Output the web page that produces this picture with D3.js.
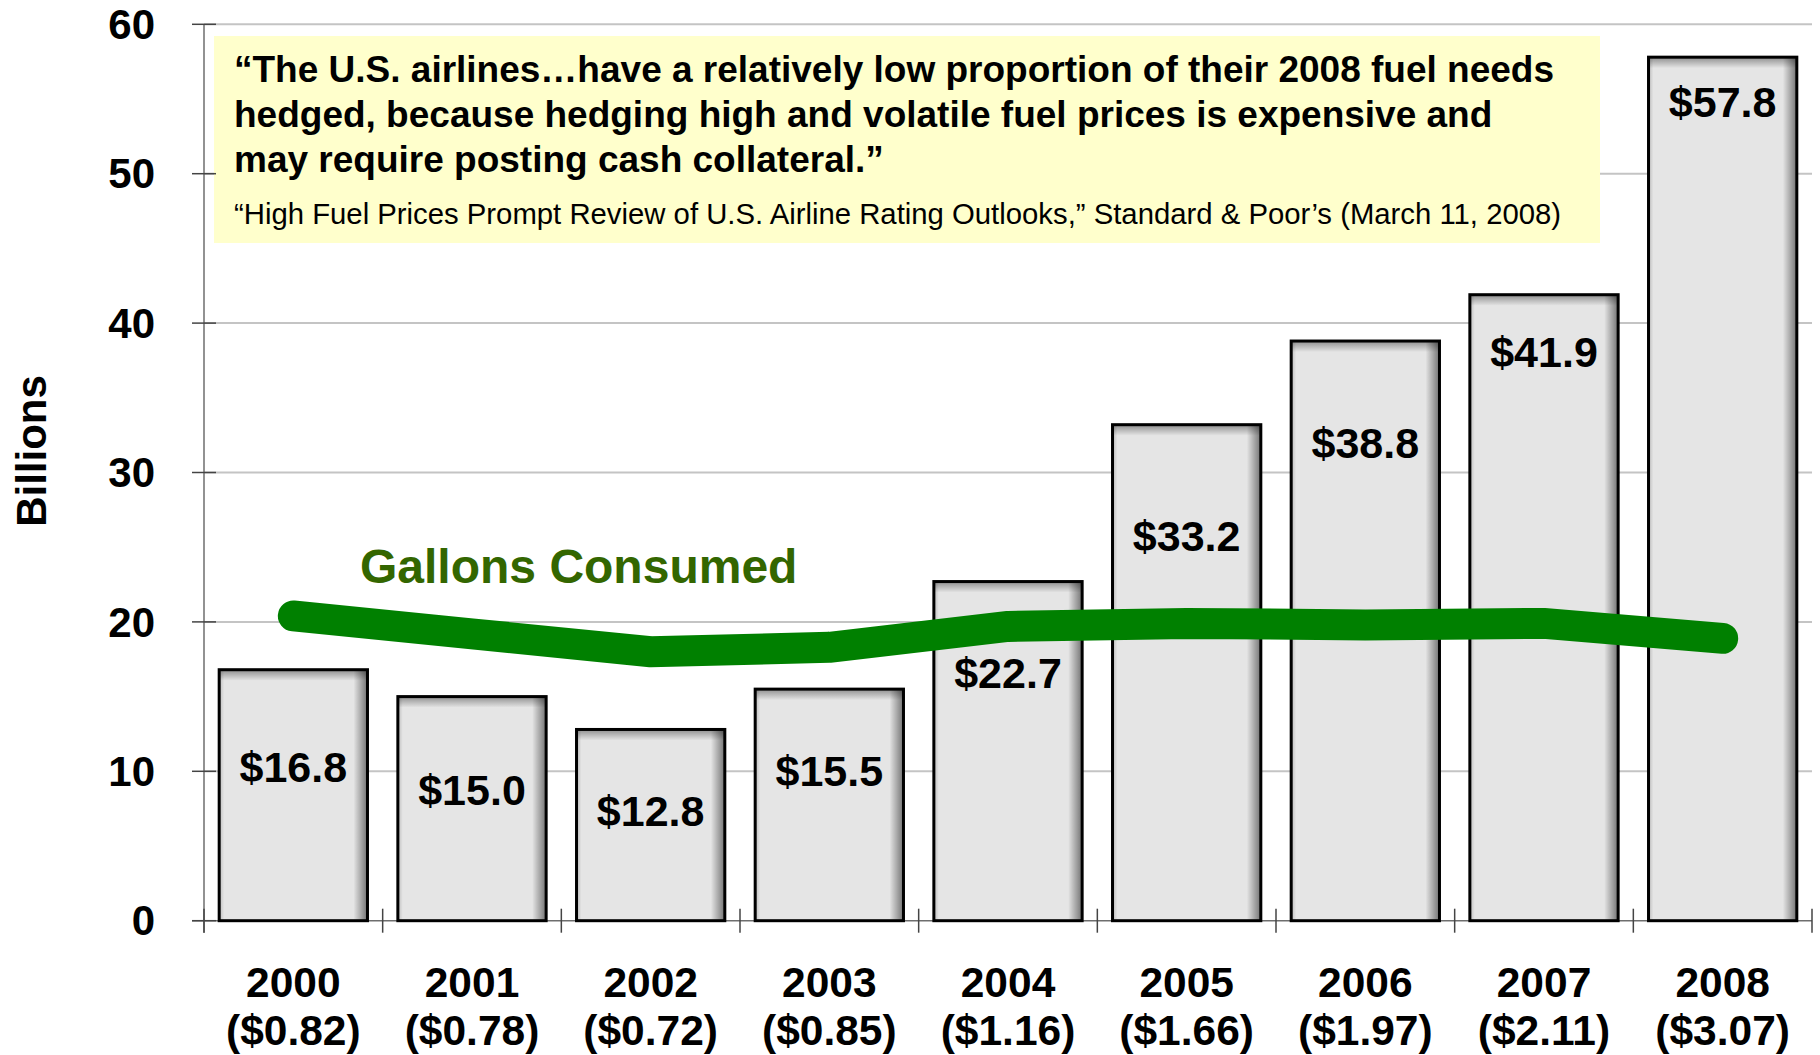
<!DOCTYPE html>
<html>
<head>
<meta charset="utf-8">
<script src="https://cdn.jsdelivr.net/npm/d3@7"></script>
<style>
  html, body { margin: 0; padding: 0; background: #ffffff; }
  svg { display: block; font-family: "Liberation Sans", Arial, sans-serif; }
</style>
</head>
<body>
<svg id="chart" width="1820" height="1055"></svg>
<script>
// ---- data ----
const years = ["2000", "2001", "2002", "2003", "2004", "2005", "2006", "2007", "2008"];
const pricePerGallon = ["($0.82)", "($0.78)", "($0.72)", "($0.85)", "($1.16)", "($1.66)", "($1.97)", "($2.11)", "($3.07)"];
const fuelCost = [16.8, 15.0, 12.8, 15.5, 22.7, 33.2, 38.8, 41.9, 57.8];
const costLabels = ["$16.8", "$15.0", "$12.8", "$15.5", "$22.7", "$33.2", "$38.8", "$41.9", "$57.8"];
const labelAt = [10.27, 8.78, 7.33, 10.04, 16.57, 25.74, 32.0, 38.09, 54.82]; // label centre, in axis units
const gallonsConsumed = [20.4, 19.2, 18.0, 18.3, 19.7, 19.9, 19.8, 19.9, 18.9];
const yTicks = [0, 10, 20, 30, 40, 50, 60];
const yTitle = "Billions";
const lineLabel = "Gallons Consumed";
const quoteLines = [
  "\u201CThe U.S. airlines\u2026have a relatively low proportion of their 2008 fuel needs",
  "hedged, because hedging high and volatile fuel prices is expensive and",
  "may require posting cash collateral.\u201D"
];
const quoteSource = "\u201CHigh Fuel Prices Prompt Review of U.S. Airline Rating Outlooks,\u201D Standard & Poor\u2019s (March 11, 2008)";

// ---- layout ----
const svg = d3.select("#chart");
const pLeft = 204, pRight = 1812, pTop = 24.3, pBottom = 920.7;

const x = d3.scaleBand().domain(years).range([pLeft, pRight]).paddingInner(0.17).paddingOuter(0.085);
const y = d3.scaleLinear().domain([0, 60]).range([pBottom, pTop]);
const step = x.step();
const boundary = i => pLeft + i * step;

// defs: bar shading
const defs = svg.append("defs");
const gR = defs.append("linearGradient").attr("id", "shadeR").attr("x1", 0).attr("x2", 1).attr("y1", 0).attr("y2", 0);
gR.append("stop").attr("offset", "0%").attr("stop-color", "#000").attr("stop-opacity", 0);
gR.append("stop").attr("offset", "100%").attr("stop-color", "#000").attr("stop-opacity", 0.5);
const gT = defs.append("linearGradient").attr("id", "shadeT").attr("x1", 0).attr("x2", 0).attr("y1", 0).attr("y2", 1);
gT.append("stop").attr("offset", "0%").attr("stop-color", "#000").attr("stop-opacity", 0.38);
gT.append("stop").attr("offset", "100%").attr("stop-color", "#000").attr("stop-opacity", 0);
const gL = defs.append("linearGradient").attr("id", "shadeL").attr("x1", 0).attr("x2", 1).attr("y1", 0).attr("y2", 0);
gL.append("stop").attr("offset", "0%").attr("stop-color", "#000").attr("stop-opacity", 0.18);
gL.append("stop").attr("offset", "100%").attr("stop-color", "#000").attr("stop-opacity", 0);

// gridlines
svg.append("g").selectAll("line").data(yTicks.filter(t => t > 0)).join("line")
  .attr("x1", pLeft).attr("x2", pRight)
  .attr("y1", d => y(d)).attr("y2", d => y(d))
  .attr("stroke", "#c4c4c4").attr("stroke-width", 2);

// quote box
const qb = svg.append("g");
qb.append("rect").attr("x", 214).attr("y", 36).attr("width", 1386).attr("height", 207).attr("fill", "#ffffcc");
qb.selectAll("text.q").data(quoteLines).join("text").attr("class", "q")
  .attr("x", 234).attr("y", (d, i) => 81.7 + i * 45)
  .attr("font-size", 37).attr("font-weight", "bold").attr("fill", "#000")
  .text(d => d);
qb.append("text").attr("x", 234).attr("y", 224)
  .attr("font-size", 29.3).attr("fill", "#000").text(quoteSource);

// axes lines
const axisColor = "#6e6e6e";
svg.append("line").attr("x1", pLeft).attr("x2", pLeft).attr("y1", pTop).attr("y2", pBottom + 12)
  .attr("stroke", axisColor).attr("stroke-width", 1.5);
svg.append("line").attr("x1", pLeft - 12).attr("x2", pRight).attr("y1", pBottom).attr("y2", pBottom)
  .attr("stroke", axisColor).attr("stroke-width", 1.5);
// y ticks
svg.append("g").selectAll("line").data(yTicks).join("line")
  .attr("x1", pLeft - 12).attr("x2", pLeft + 12)
  .attr("y1", d => y(d)).attr("y2", d => y(d))
  .attr("stroke", "#444").attr("stroke-width", 1.5);
svg.append("g").selectAll("text").data(yTicks).join("text")
  .attr("x", 155).attr("y", d => y(d)).attr("dy", "0.35em")
  .attr("text-anchor", "end").attr("font-size", 42).attr("font-weight", "bold")
  .text(d => d);
// x ticks at band boundaries
svg.append("g").selectAll("line").data(d3.range(years.length + 1)).join("line")
  .attr("x1", i => boundary(i)).attr("x2", i => boundary(i))
  .attr("y1", pBottom - 12).attr("y2", pBottom + 12)
  .attr("stroke", "#444").attr("stroke-width", 1.5);

// bars
const bars = svg.append("g").selectAll("g").data(years).join("g");
bars.append("rect")
  .attr("x", d => x(d)).attr("y", (d, i) => y(fuelCost[i]))
  .attr("width", x.bandwidth()).attr("height", (d, i) => y(0) - y(fuelCost[i]))
  .attr("fill", "#e5e5e5");
bars.append("rect")
  .attr("x", d => x(d) + x.bandwidth() - 14).attr("y", (d, i) => y(fuelCost[i]))
  .attr("width", 14).attr("height", (d, i) => y(0) - y(fuelCost[i]))
  .attr("fill", "url(#shadeR)");
bars.append("rect")
  .attr("x", d => x(d)).attr("y", (d, i) => y(fuelCost[i]))
  .attr("width", 5).attr("height", (d, i) => y(0) - y(fuelCost[i]))
  .attr("fill", "url(#shadeL)");
bars.append("rect")
  .attr("x", d => x(d)).attr("y", (d, i) => y(fuelCost[i]))
  .attr("width", x.bandwidth()).attr("height", 11)
  .attr("fill", "url(#shadeT)");
bars.append("rect")
  .attr("x", d => x(d)).attr("y", (d, i) => y(fuelCost[i]))
  .attr("width", x.bandwidth()).attr("height", (d, i) => y(0) - y(fuelCost[i]))
  .attr("fill", "none").attr("stroke", "#000").attr("stroke-width", 3);
bars.append("text")
  .attr("x", d => x(d) + x.bandwidth() / 2).attr("y", (d, i) => y(labelAt[i]))
  .attr("dy", "0.35em").attr("text-anchor", "middle")
  .attr("font-size", 43).attr("font-weight", "bold")
  .text((d, i) => costLabels[i]);

// x labels
const xl = svg.append("g").selectAll("text").data(years).join("text")
  .attr("text-anchor", "middle").attr("font-size", 42.5).attr("font-weight", "bold");
xl.append("tspan").attr("x", d => x(d) + x.bandwidth() / 2).attr("y", 996.7).text(d => d);
xl.append("tspan").attr("x", d => x(d) + x.bandwidth() / 2).attr("y", 1045).text((d, i) => pricePerGallon[i]);

// gallons line
const line = d3.line().x((d, i) => x(years[i]) + x.bandwidth() / 2).y(d => y(d));
svg.append("path").datum(gallonsConsumed)
  .attr("d", line).attr("fill", "none")
  .attr("stroke", "#008000").attr("stroke-width", 31)
  .attr("stroke-linecap", "round").attr("stroke-linejoin", "round");
svg.append("text").attr("x", 360).attr("y", 583.3)
  .attr("font-size", 48).attr("font-weight", "bold").attr("fill", "#336600")
  .text(lineLabel);

// y title
svg.append("text").attr("transform", "translate(31,451) rotate(-90)")
  .attr("text-anchor", "middle").attr("dy", "0.35em")
  .attr("font-size", 42).attr("font-weight", "bold").text(yTitle);
</script>
</body>
</html>
